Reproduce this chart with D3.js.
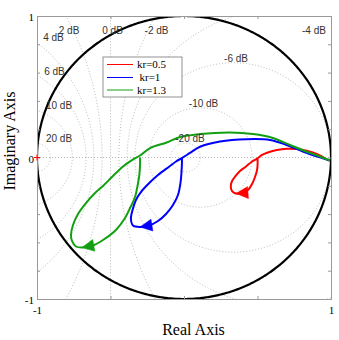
<!DOCTYPE html>
<html><head><meta charset="utf-8">
<script src="https://cdn.jsdelivr.net/npm/d3@7"></script>
<style>body{margin:0;background:#fff;} svg{display:block}</style>
</head><body>
<svg id="c" width="339" height="340"></svg>
<script>
// ---------- data ----------
const seriesNames = ["kr=0.5", "kr=1", "kr=1.3"];
const redRe = [0.500,0.501,0.497,0.483,0.463,0.435,0.395,0.354,0.327,0.318,0.327,0.347,0.381,0.420,0.461,0.500,0.531,0.565,0.631,0.699,0.767,0.835,0.903,0.948,0.986];
const redIm = [-0.006,-0.041,-0.088,-0.138,-0.187,-0.230,-0.251,-0.254,-0.237,-0.201,-0.166,-0.136,-0.095,-0.065,-0.030,-0.006,0.018,0.034,0.053,0.062,0.060,0.048,0.025,0.001,-0.023];
const blueRe = [-0.014,-0.014,-0.017,-0.024,-0.041,-0.075,-0.122,-0.177,-0.238,-0.299,-0.347,-0.361,-0.350,-0.327,-0.293,-0.238,-0.177,-0.102,-0.054,-0.014,0.041,0.109,0.245,0.427,0.585,0.699,0.812,0.925,0.993];
const blueIm = [-0.004,-0.039,-0.102,-0.180,-0.265,-0.336,-0.399,-0.449,-0.481,-0.491,-0.481,-0.435,-0.371,-0.300,-0.244,-0.182,-0.124,-0.065,-0.028,-0.004,0.032,0.076,0.113,0.129,0.124,0.088,0.041,0.001,-0.021];
const greenRe = [-0.299,-0.299,-0.304,-0.315,-0.333,-0.367,-0.401,-0.463,-0.551,-0.619,-0.694,-0.735,-0.762,-0.769,-0.755,-0.721,-0.667,-0.605,-0.551,-0.490,-0.417,-0.354,-0.299,-0.231,-0.118,-0.027,0.109,0.313,0.469,0.605,0.721,0.835,0.925,0.993];
const greenIm = [0.000,-0.053,-0.124,-0.194,-0.279,-0.357,-0.428,-0.512,-0.583,-0.622,-0.636,-0.629,-0.590,-0.548,-0.477,-0.399,-0.322,-0.251,-0.201,-0.138,-0.065,-0.018,0.014,0.067,0.106,0.145,0.166,0.177,0.166,0.138,0.088,0.041,0.007,-0.021];
const arrowIndex = [7, 9, 10];   // sample where the direction arrow sits
const gridDb = [-20, -10, -6, -4, -2, 0, 2, 4, 6, 10, 20];
const gridDbLabels = ["-20 dB","-10 dB","-6 dB","-4 dB","-2 dB","0 dB","2 dB","4 dB","6 dB","10 dB","20 dB"];
const xTicks = [-1, -0.5, 0, 0.5, 1];
const yTicks = [-1, -0.8, -0.6, -0.4, -0.2, 0, 0.2, 0.4, 0.6, 0.8, 1];
const xTickLabels = ["-1", "", "", "", "1"];
const yTickLabels = ["-1", "", "", "", "", "0", "", "", "", "", "1"];

// ---------- layout / style ----------
const colors = ["#ff0000", "#0000ff", "#12a012"];
// annotation anchors for the dB labels (data units), same order as gridDb
const dbLabelAt = [[0.041,0.131],[0.133,0.385],[0.354,0.700],[0.884,0.894],[-0.187,0.894],[-0.486,0.894],[-0.782,0.896],[-0.888,0.846],[-0.881,0.611],[-0.850,0.367],[-0.850,0.134]];

const svg = d3.select("#c");
const x = d3.scaleLinear().domain([-1, 1]).range([37, 331]);
const y = d3.scaleLinear().domain([-1, 1]).range([299, 16]);

svg.append("rect").attr("width", 339).attr("height", 340).attr("fill", "#fff");
svg.append("defs").append("clipPath").attr("id", "clip")
  .append("rect").attr("x", x(-1)).attr("y", y(1)).attr("width", x(1) - x(-1)).attr("height", y(-1) - y(1));

const plot = svg.append("g").attr("clip-path", "url(#clip)");
const line = d3.line().x(d => x(d[0])).y(d => y(d[1]));

// grid: constant closed-loop magnitude circles
const gridStyle = s => s.attr("fill", "none").attr("stroke", "#a8a8a8").attr("stroke-width", 0.8).attr("stroke-dasharray", "1,2");
gridDb.forEach(db => {
  if (db === 0) {
    plot.append("path").attr("d", line([[-0.5, -1.2], [-0.5, 1.2]])).call(gridStyle);
    return;
  }
  const M = Math.pow(10, db / 20), M2 = M * M;
  const cx = -M2 / (M2 - 1), r = Math.abs(M / (M2 - 1));
  const pts = d3.range(0, 721).map(i => { const t = i / 720 * 2 * Math.PI; return [cx + r * Math.cos(t), r * Math.sin(t)]; });
  plot.append("path").attr("d", line(pts)).call(gridStyle);
});
// real axis line
plot.append("path").attr("d", line([[-1, 0], [1, 0]])).call(gridStyle);

// unit circle
const uc = d3.range(0, 721).map(i => { const t = i / 720 * 2 * Math.PI; return [Math.cos(t), Math.sin(t)]; });
plot.append("path").attr("d", line(uc)).attr("fill", "none").attr("stroke", "#000").attr("stroke-width", 2.2);

// dB labels
gridDbLabels.forEach((t, i) => {
  svg.append("text").attr("x", x(dbLabelAt[i][0])).attr("y", y(dbLabelAt[i][1])).attr("dy", "0.35em")
    .attr("text-anchor", "middle").attr("font-family", "Liberation Sans, Arial, sans-serif")
    .attr("font-size", 10).attr("fill", "#333").text(t);
});

// axes box + ticks
const axisStyle = g => { g.select(".domain").attr("stroke", "#999"); g.selectAll(".tick line").attr("stroke", "#999");
  g.selectAll("text").attr("font-family", "Liberation Serif, Times New Roman, serif").attr("font-size", 11).attr("fill", "#000"); };
svg.append("g").attr("transform", `translate(0,${y(-1)})`)
  .call(d3.axisBottom(x).tickValues(xTicks).tickSize(-3).tickSizeOuter(0).tickPadding(7).tickFormat((d, i) => xTickLabels[i])).call(axisStyle);
svg.append("g").attr("transform", `translate(0,${y(1)})`)
  .call(d3.axisTop(x).tickValues(xTicks).tickSize(-3).tickSizeOuter(0).tickFormat("")).call(axisStyle);
svg.append("g").attr("transform", `translate(${x(-1)},0)`)
  .call(d3.axisLeft(y).tickValues(yTicks).tickSize(-3).tickSizeOuter(0).tickPadding(3).tickFormat((d, i) => yTickLabels[i])).call(axisStyle)
  .selectAll("text").attr("dy", "0.45em");
svg.append("g").attr("transform", `translate(${x(1)},0)`)
  .call(d3.axisRight(y).tickValues(yTicks).tickSize(-3).tickSizeOuter(0).tickFormat("")).call(axisStyle);

// critical point marker
svg.append("path").attr("d", `M${x(-1)-3},${y(0)}h6M${x(-1)},${y(0)-3}v6`).attr("stroke", "#ff0000").attr("stroke-width", 1);

// series
const series = [[redRe, redIm], [blueRe, blueIm], [greenRe, greenIm]];
const curve = d3.line().x(d => x(d[0])).y(d => y(d[1])).curve(d3.curveCatmullRom.alpha(0.5));
series.forEach(([re, im], k) => {
  const pts = re.map((v, i) => [v, im[i]]);
  plot.append("path").attr("d", curve(pts)).attr("fill", "none").attr("stroke", colors[k])
    .attr("stroke-width", 2).attr("stroke-linejoin", "round");
  const a = arrowIndex[k];
  const tx = x(pts[a][0]), ty = y(pts[a][1]);
  const px = x(pts[a - 1][0]), py = y(pts[a - 1][1]);
  const L = Math.hypot(tx - px, ty - py), ux = (tx - px) / L, uy = (ty - py) / L;
  const len = 12, hw = 6;
  const bx = tx - ux * len, by = ty - uy * len;
  svg.append("path").attr("d", `M${tx},${ty}L${bx - uy * hw},${by + ux * hw}L${bx + uy * hw},${by - ux * hw}Z`)
    .attr("fill", colors[k]).attr("stroke", colors[k]).attr("stroke-width", 0.5);
});

// legend
const lg = svg.append("g");
lg.append("rect").attr("x", 103).attr("y", 57).attr("width", 79).attr("height", 40).attr("fill", "#fff").attr("stroke", "#777").attr("stroke-width", 0.8);
const legRows = [64.5, 77.5, 90], legText = [137, 139.5, 137];
seriesNames.forEach((n, i) => {
  lg.append("line").attr("x1", 107).attr("x2", 133).attr("y1", legRows[i]).attr("y2", legRows[i]).attr("stroke", colors[i]).attr("stroke-width", 1);
  lg.append("text").attr("x", legText[i]).attr("y", legRows[i]).attr("dy", "0.33em")
    .attr("font-family", "Liberation Serif, Times New Roman, serif").attr("font-size", 11).text(n);
});

// axis titles
svg.append("text").attr("x", 193.5).attr("y", 335).attr("text-anchor", "middle")
  .attr("font-family", "Liberation Serif, Times New Roman, serif").attr("font-size", 16).text("Real Axis");
svg.append("text").attr("transform", "translate(15,141) rotate(-90)").attr("text-anchor", "middle")
  .attr("font-family", "Liberation Serif, Times New Roman, serif").attr("font-size", 16).text("Imaginary Axis");
</script>
</body></html>
